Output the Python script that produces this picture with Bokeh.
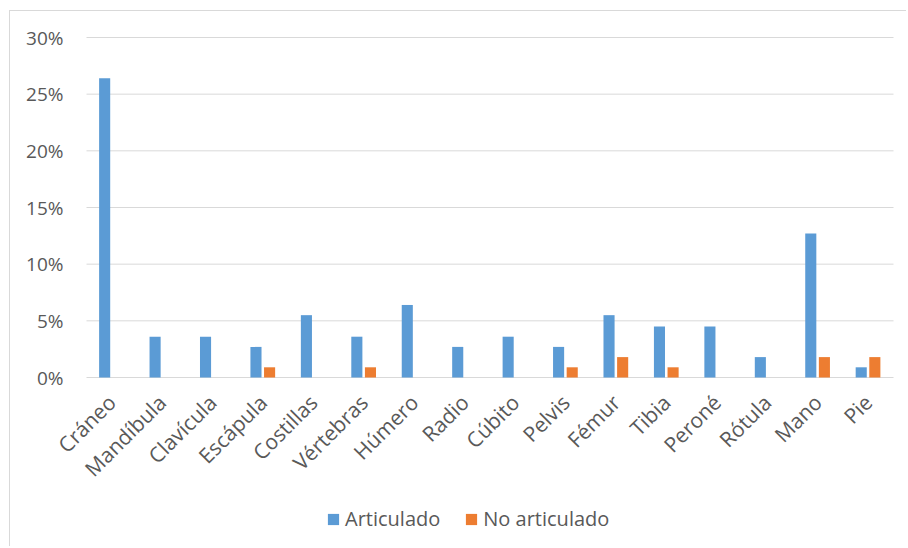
import math
from bokeh.plotting import figure
from bokeh.models import (ColumnDataSource, NumeralTickFormatter, Legend, LegendItem,
                          Range1d, FixedTicker)
from bokeh.transform import dodge
from bokeh.embed import file_html
from bokeh.resources import INLINE

categories = ["Cráneo", "Mandíbula", "Clavícula", "Escápula", "Costillas", "Vértebras",
              "Húmero", "Radio", "Cúbito", "Pelvis", "Fémur", "Tibia", "Peroné",
              "Rótula", "Mano", "Pie"]
articulado = [0.264, 0.036, 0.036, 0.027, 0.055, 0.036, 0.064, 0.027, 0.036, 0.027,
              0.055, 0.045, 0.045, 0.018, 0.127, 0.009]
no_articulado = [0.0, 0.0, 0.0, 0.009, 0.0, 0.009, 0.0, 0.0, 0.0, 0.009,
                 0.018, 0.009, 0.0, 0.0, 0.018, 0.018]
y_ticks = [0.0, 0.05, 0.10, 0.15, 0.20, 0.25, 0.30]

FONT = "Open Sans"
TXT = "#595959"
GRID = "#d9d9d9"

# canvas geometry (page px): canvas 10..907 x 11..547
W, H = 897, 536
TOP_GAP, BOTTOM_GAP = 26, 2              # px above the 30% line / below frame
n = len(categories)
plot_left, plot_right = 76, 883           # where the category band starts / ends on canvas
unit = (plot_right - plot_left) / n
x_start = -0.5 - plot_left / unit
x_end = n - 0.5 + (W - plot_right) / unit
px_per_val = 340.0 / 0.30                 # 340 px for 0-30%
y_top_val = 0.30
y_max = y_top_val + TOP_GAP / px_per_val
y_min = y_top_val - (H - TOP_GAP - BOTTOM_GAP) / px_per_val

xs = list(range(n))
source = ColumnDataSource(dict(x=xs, art=articulado, noart=no_articulado))

p = figure(x_range=Range1d(x_start, x_end), y_range=Range1d(y_min, y_max),
           width=W, height=H, output_backend="svg", toolbar_location=None,
           min_border_left=0, min_border_right=0, min_border_top=0,
           min_border_bottom=BOTTOM_GAP)
p.margin = (10, 0, 0, 9)
p.styles = {"border-left": "1px solid #d9d9d9", "border-top": "1px solid #d9d9d9"}
p.outline_line_color = None
p.grid.visible = False

# gridlines across the category band only
p.segment(x0=[-0.5] * len(y_ticks), x1=[n - 0.5] * len(y_ticks), y0=y_ticks, y1=y_ticks,
          line_color=GRID, line_width=1)

r1 = p.vbar(x=dodge("x", -0.14), top="art", bottom=0, width=0.22,
            source=source, fill_color="#5B9BD5", line_color=None)
r2 = p.vbar(x=dodge("x", 0.13), top="noart", bottom=0, width=0.22,
            source=source, fill_color="#ED7D31", line_color=None)

p.yaxis.fixed_location = -0.5
p.yaxis.ticker = FixedTicker(ticks=y_ticks)
p.yaxis.formatter = NumeralTickFormatter(format="0%")
p.yaxis.axis_line_color = None
p.yaxis.major_tick_line_color = None
p.yaxis.minor_tick_line_color = None
p.yaxis.major_tick_out = 0
p.yaxis.major_tick_in = 0
p.yaxis.major_label_standoff = 23
p.yaxis.major_label_text_font_size = "19px"

p.xaxis.fixed_location = 0
p.xaxis.ticker = FixedTicker(ticks=xs)
p.xaxis.major_label_overrides = {i: c for i, c in zip(xs, categories)}
p.xaxis.axis_line_color = None
p.xaxis.major_tick_line_color = None
p.xaxis.minor_tick_line_color = None
p.xaxis.major_tick_out = 0
p.xaxis.major_tick_in = 0
p.xaxis.major_label_orientation = math.pi / 4
p.xaxis.major_label_standoff = 21
p.xaxis.major_label_text_font_size = "21px"
for ax in (p.xaxis, p.yaxis):
    ax.major_label_text_font = FONT
    ax.major_label_text_color = TXT

legend = Legend(items=[LegendItem(label="Articulado", renderers=[r1]),
                       LegendItem(label="No articulado", renderers=[r2])],
                orientation="horizontal", location=(316, 13),
                background_fill_alpha=0, border_line_color=None,
                label_text_font=FONT, label_text_font_size="20px", label_text_color=TXT,
                glyph_width=14, glyph_height=14, label_standoff=5, spacing=24,
                padding=0, margin=0)
p.add_layout(legend, "center")

open("out.html", "w").write(file_html(p, INLINE))
